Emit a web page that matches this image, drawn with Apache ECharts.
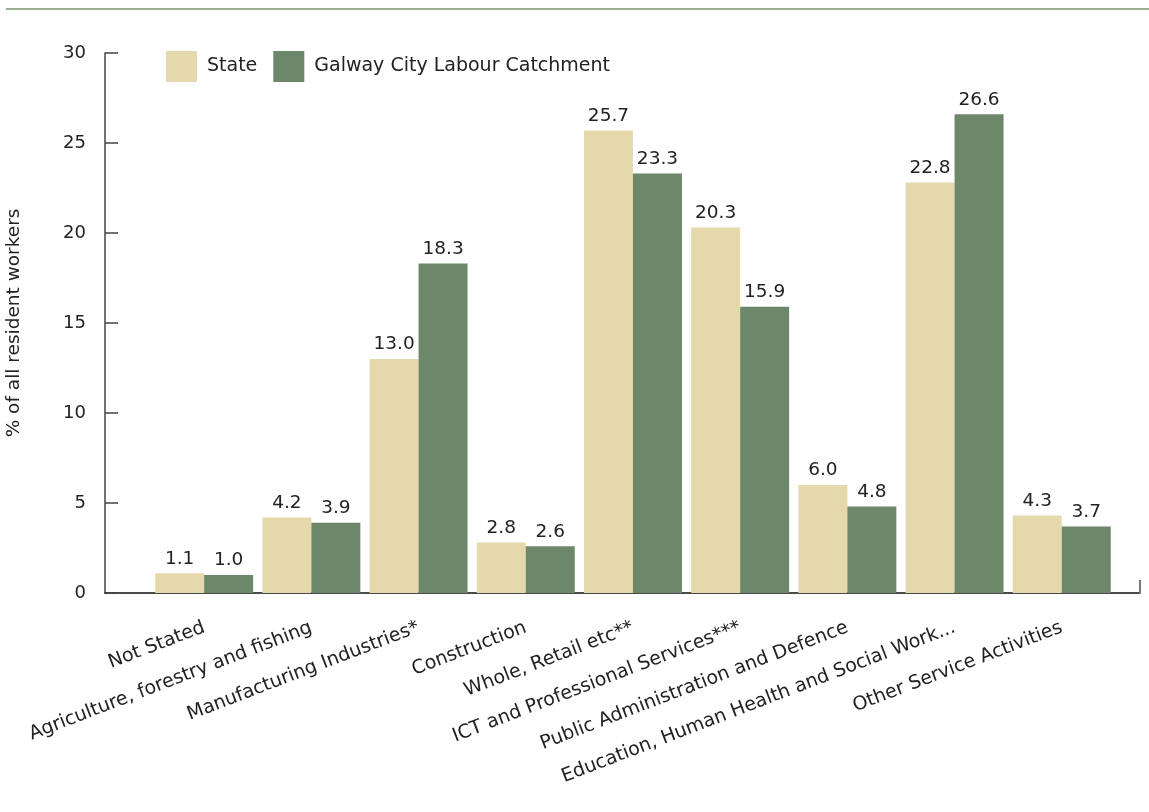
<!DOCTYPE html>
<html><head><meta charset="utf-8">
<script src="https://cdn.jsdelivr.net/npm/echarts@6/dist/echarts.min.js"></script>
<style>html,body{margin:0;padding:0;background:#fff}#c{width:1149px;height:812px}</style>
</head><body><div id="c"></div>
<script>
const categories = ["Not Stated","Agriculture, forestry and fishing","Manufacturing Industries*","Construction","Whole, Retail etc**","ICT and Professional Services***","Public Administration and Defence","Education, Human Health and Social Work...","Other Service Activities"];
const stateValues = [1.1, 4.2, 13.0, 2.8, 25.7, 20.3, 6.0, 22.8, 4.3];
const galwayValues = [1.0, 3.9, 18.3, 2.6, 23.3, 15.9, 4.8, 26.6, 3.7];
const seriesNames = ["State", "Galway City Labour Catchment"];
const yTicks = [0, 5, 10, 15, 20, 25, 30];

const font = "'DejaVu Sans', sans-serif";
const chart = echarts.init(document.getElementById('c'), null, {renderer: 'canvas'});
const lbl = {show: true, position: 'top', distance: 5, color: '#222', fontSize: 18.5, fontFamily: font,
  formatter: p => p.value[1].toFixed(1)};
chart.setOption({
  animation: false,
  textStyle: {fontFamily: font},
  graphic: [{type: 'line', shape: {x1: 6, y1: 9, x2: 1149, y2: 9}, style: {stroke: '#9aae91', lineWidth: 2}}],
  legend: {left: 166, top: 51, padding: 0, itemWidth: 31, itemHeight: 31, itemGap: 16, icon: 'rect',
    textStyle: {fontSize: 19, color: '#222', fontFamily: font, padding: [0,0,0,5]},
    data: seriesNames},
  grid: {left: 105, right: 9, top: 53, bottom: 219, containLabel: false, outerBoundsMode: 'none'},
  xAxis: {type: 'value', min: -0.925, max: 8.73,
    splitLine: {show: false},
    axisLine: {show: true, onZero: false, lineStyle: {color: '#111', width: 1.5}},
    axisTick: {show: true, inside: true, length: 13, customValues: [8.73], lineStyle: {color: '#777', width: 2}},
    axisLabel: {show: true, customValues: [0,1,2,3,4,5,6,7,8], rotate: 21, margin: 34, fontSize: 19, color: '#222', fontFamily: font,
      formatter: v => categories[Math.round(v)]}
  },
  yAxis: {type: 'value', min: 0, max: 30, interval: 5,
    name: '% of all resident workers', nameLocation: 'middle', nameGap: 81,
    nameTextStyle: {fontSize: 18.5, color: '#222', fontFamily: font},
    splitLine: {show: false},
    axisLine: {show: true, onZero: false, lineStyle: {color: '#444', width: 1.5}},
    axisTick: {show: true, inside: true, length: 13, lineStyle: {color: '#444', width: 1.5}},
    axisLabel: {fontSize: 18, color: '#222', margin: 19, fontFamily: font,
      formatter: v => yTicks.includes(v) ? String(v) : ''}
  },
  series: [
    {name: seriesNames[0], type: 'bar', barWidth: 49, barGap: '0%', itemStyle: {color: '#e5d9ab'},
     label: lbl, data: stateValues.map((v,i)=>[i,v])},
    {name: seriesNames[1], type: 'bar', barWidth: 49, barGap: '0%', itemStyle: {color: '#6c8769'},
     label: lbl, data: galwayValues.map((v,i)=>[i,v])}
  ]
});
</script></body></html>
